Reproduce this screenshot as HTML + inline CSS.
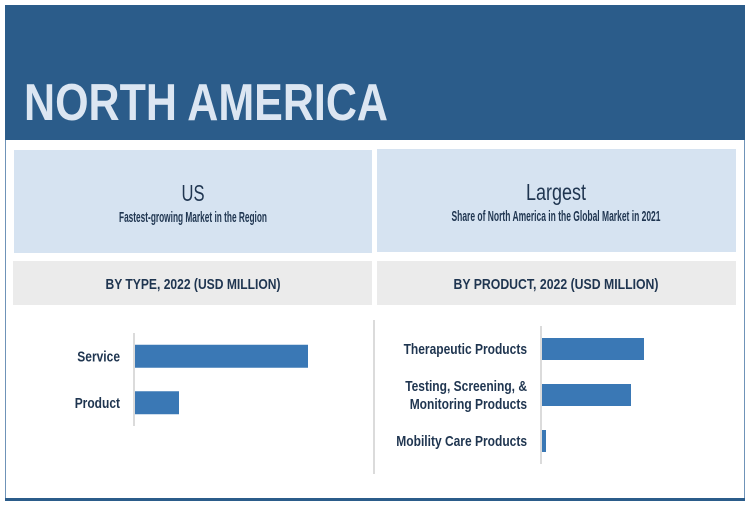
<!DOCTYPE html>
<html><head><meta charset="utf-8"><style>
html,body{margin:0;padding:0;background:#fff;}
svg{display:block;font-family:"Liberation Sans",sans-serif;}
.n{font-family:"Liberation Sans Narrow","Liberation Sans",sans-serif;}
</style></head><body>
<svg width="750" height="511" viewBox="0 0 750 511" xmlns="http://www.w3.org/2000/svg">
<rect x="5" y="5" width="740" height="135" fill="#2b5c8a"/>
<text x="24" y="120" font-size="52" font-weight="bold" fill="#dce6f2" textLength="364" lengthAdjust="spacingAndGlyphs">NORTH AMERICA</text>
<line x1="5.5" y1="140" x2="5.5" y2="500" stroke="#6f93b8" stroke-width="1"/>
<line x1="744.5" y1="140" x2="744.5" y2="500" stroke="#6f93b8" stroke-width="1"/>
<rect x="5" y="498" width="740" height="3" fill="#2b5c8a"/>

<rect x="14" y="150" width="358" height="103" fill="#d6e3f1"/>
<rect x="377" y="149" width="359" height="103" fill="#d6e3f1"/>
<text class="n" x="193" y="201" font-size="23" fill="#1f3550" text-anchor="middle" textLength="23" lengthAdjust="spacingAndGlyphs">US</text>
<text x="193" y="222" font-size="15" font-weight="bold" fill="#1f3550" text-anchor="middle" textLength="148" lengthAdjust="spacingAndGlyphs">Fastest-growing Market in the Region</text>
<text class="n" x="556" y="200" font-size="23" fill="#1f3550" text-anchor="middle" textLength="60" lengthAdjust="spacingAndGlyphs">Largest</text>
<text x="556" y="221" font-size="15" font-weight="bold" fill="#1f3550" text-anchor="middle" textLength="209" lengthAdjust="spacingAndGlyphs">Share of North America in the Global Market in 2021</text>

<rect x="13" y="261" width="359" height="44" fill="#ebebeb"/>
<rect x="377" y="261" width="359" height="44" fill="#ebebeb"/>
<text x="193" y="289" font-size="15" font-weight="bold" fill="#1f3550" text-anchor="middle" textLength="175" lengthAdjust="spacingAndGlyphs">BY TYPE, 2022 (USD MILLION)</text>
<text x="556" y="289" font-size="15" font-weight="bold" fill="#1f3550" text-anchor="middle" textLength="205" lengthAdjust="spacingAndGlyphs">BY PRODUCT, 2022 (USD MILLION)</text>

<line x1="374" y1="320" x2="374" y2="474" stroke="#cfcfcf" stroke-width="1.5"/>
<g id="chartL"></g>
<g id="chartR"></g>
</svg>
<script>
const typeCategories = ["Service", "Product"];
const typeValues = [173, 44];
const productCategories = [["Therapeutic Products"], ["Testing, Screening, &", "Monitoring Products"], ["Mobility Care Products"]];
const productValues = [102, 89, 4];

const NS = "http://www.w3.org/2000/svg";
function draw(g, cats, vals, o) {
  const xScale = v => v * o.k;
  const ax = document.createElementNS(NS, "line");
  ax.setAttribute("x1", o.x0); ax.setAttribute("x2", o.x0);
  ax.setAttribute("y1", o.y0); ax.setAttribute("y2", o.y1);
  ax.setAttribute("stroke", "#cfcfcf"); ax.setAttribute("stroke-width", "1.5");
  
  
  g.appendChild(ax);
  const band = (o.y1 - o.y0) / cats.length;
  cats.forEach((c, i) => {
    const yc = o.y0 + band * (i + 0.5);
    const r = document.createElementNS(NS, "rect");
    r.setAttribute("x", o.x0 + 1); r.setAttribute("y", yc - o.bh / 2);
    r.setAttribute("width", xScale(vals[i])); r.setAttribute("height", o.bh);
    r.setAttribute("fill", "#3a78b5");
    
    
    g.appendChild(r);
    const lines = Array.isArray(c) ? c : [c];
    lines.forEach((ln, j) => {
      const t = document.createElementNS(NS, "text");
      t.setAttribute("text-anchor", "end");
      t.setAttribute("font-size", "15"); t.setAttribute("font-weight", "bold");
      t.setAttribute("fill", "#1f3550");
      t.setAttribute("x", o.x0 - 14);
      t.setAttribute("y", yc + 5 + (j - (lines.length - 1) / 2) * 18);
      
      
      t.textContent = ln;
      g.appendChild(t);
      const w = t.getComputedTextLength();
      t.setAttribute("textLength", (w * 0.8).toFixed(1));
      t.setAttribute("lengthAdjust", "spacingAndGlyphs");
    });
  });
}
draw(document.getElementById("chartL"), typeCategories, typeValues, {x0:134, y0:333, y1:426, k:1, bh:23});
draw(document.getElementById("chartR"), productCategories, productValues, {x0:541, y0:326, y1:464, k:1, bh:22});
</script>
</body></html>
